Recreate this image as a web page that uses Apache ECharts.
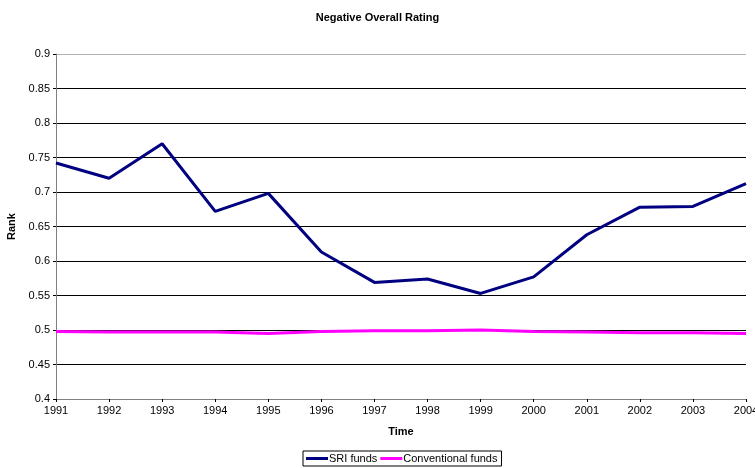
<!DOCTYPE html>
<html><head><meta charset="utf-8">
<script src="https://cdn.jsdelivr.net/npm/echarts@6/dist/echarts.min.js"></script>
<style>html,body{margin:0;padding:0;background:#fff;overflow:hidden}#c{width:755px;height:468px}</style>
</head><body><div id="c"></div>
<script>
var years = ['1991','1992','1993','1994','1995','1996','1997','1998','1999','2000','2001','2002','2003','2004'];
var sriFunds = [0.742,0.720,0.770,0.672,0.698,0.613,0.569,0.574,0.553,0.577,0.638,0.678,0.679,0.712];
var conventionalFunds = [0.498,0.497,0.497,0.497,0.495,0.498,0.499,0.499,0.500,0.498,0.497,0.496,0.496,0.495];
var F = 'Liberation Sans, Arial, sans-serif';
var chart = echarts.init(document.getElementById('c'));
chart.setOption({
  animation:false,
  backgroundColor:'#fff',
  title:{text:'Negative Overall Rating',left:'center',top:7,textStyle:{fontFamily:F,fontSize:11,fontWeight:'bold',color:'#000'}},
  grid:{left:56,right:9,top:54,bottom:69,containLabel:false,outerBoundsMode:'none'},
  legend:{bottom:2,left:303,itemWidth:22,itemHeight:3,itemGap:3,
    borderColor:'#000',borderWidth:1,padding:[2,4,2,3],
    textStyle:{fontFamily:F,fontSize:11,color:'#000',padding:[0,0,0,-4]},
    data:[{name:'SRI funds',icon:'rect'},{name:'Conventional funds',icon:'rect'}]},
  xAxis:{type:'category',data:years,boundaryGap:false,name:'Time',nameLocation:'middle',nameGap:27,
    nameTextStyle:{fontFamily:F,fontSize:11,fontWeight:'bold',color:'#000'},
    axisLine:{lineStyle:{color:'#808080',width:1}},
    axisTick:{show:true,inside:false,length:3,lineStyle:{color:'#000'}},
    axisLabel:{fontFamily:F,fontSize:11,color:'#000',margin:6},
    splitLine:{show:false}},
  yAxis:{type:'value',min:0.4,max:0.9,interval:0.05,name:'Rank',nameLocation:'middle',nameGap:38,
    nameTextStyle:{fontFamily:F,fontSize:11,fontWeight:'bold',color:'#000'},
    axisLine:{show:true,lineStyle:{color:'#808080',width:1}},
    axisTick:{show:true,length:3,lineStyle:{color:'#000'}},
    axisLabel:{fontFamily:F,fontSize:11,color:'#000',margin:6,formatter:function(v){return String(Math.round(v*100)/100);}},
    splitLine:{show:true,lineStyle:{color:['#808080','#000','#000','#000','#000','#000','#000','#000','#000','#000','#b0b0b0'],width:1}}},
  series:[
    {name:'SRI funds',type:'line',data:sriFunds,symbol:'none',lineStyle:{color:'#000080',width:3},itemStyle:{color:'#000080'}},
    {name:'Conventional funds',type:'line',data:conventionalFunds,symbol:'none',lineStyle:{color:'#ff00ff',width:3},itemStyle:{color:'#ff00ff'}}
  ]
});
</script></body></html>
